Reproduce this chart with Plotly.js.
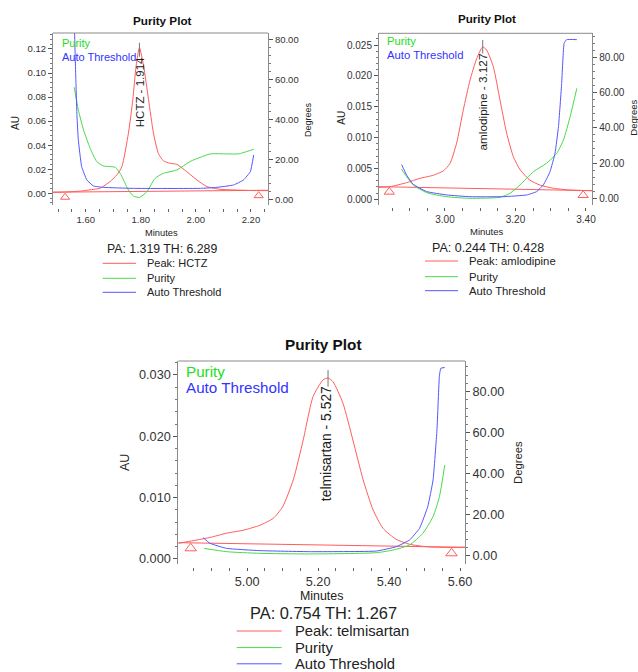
<!DOCTYPE html>
<html>
<head>
<meta charset="utf-8">
<script src="https://cdn.plot.ly/plotly-3.0.1.min.js"></script>
<style>html,body{margin:0;padding:0;background:#fff;}#chart{width:638px;height:672px;}</style>
</head>
<body>
<div id="chart"></div>
<script>
// ---------- data ----------
// Plot 1: HCTZ
const hctzTime = [1.481,1.53,1.58,1.62,1.652,1.688,1.713,1.731,1.755,1.771,1.783,1.795,1.81,1.828,1.846,1.864,1.882,1.905,1.931,1.967,2.004,2.040,2.088,2.137,2.20,2.262];
const hctzAU   = [0.0008,0.0011,0.0018,0.003,0.0042,0.0097,0.0153,0.022,0.050,0.078,0.106,0.121,0.106,0.078,0.050,0.033,0.027,0.025,0.024,0.018,0.011,0.0056,0.0033,0.0028,0.0023,0.0022];
const hctzPurTime = [1.558,1.573,1.592,1.616,1.640,1.664,1.707,1.725,1.755,1.773,1.795,1.822,1.852,1.882,1.931,1.979,2.016,2.052,2.113,2.155,2.185,2.210];
const hctzPurDeg  = [56.3,45,35,25.8,19.2,17,16.3,13.3,5,2,1.3,4.2,10.8,13.3,15,19.2,21.3,23,23,23,24.2,25.3];
const hctzThrTime = [1.556,1.560,1.564,1.568,1.573,1.585,1.604,1.628,1.664,1.773,2.016,2.076,2.137,2.173,2.198,2.210];
const hctzThrDeg  = [100,80,60,42,30,16.7,10,7,6.3,5.8,5.8,6.3,7.5,10,14.2,22.5];
const hctzBaseTime = [1.481,2.262];
const hctzBaseAU   = [0.0009,0.0025];
const hctzMarkTime = [1.525,2.228];
const hctzMarkAU   = [-0.0033,-0.0020];

// Plot 2: amlodipine
const amlTime = [2.8128,2.844,2.891,2.929,2.967,2.995,3.014,3.033,3.052,3.071,3.090,3.107,3.118,3.137,3.156,3.175,3.194,3.213,3.241,3.270,3.307,3.355,3.418];
const amlAU   = [0.00194,0.00205,0.0027,0.0034,0.0039,0.0046,0.0058,0.0091,0.0145,0.0193,0.0228,0.0247,0.0242,0.0215,0.0161,0.0107,0.0069,0.0048,0.0031,0.0023,0.0018,0.0015,0.0014];
const amlPurTime = [2.877,2.891,2.910,2.948,3.005,3.071,3.156,3.184,3.213,3.251,3.288,3.317,3.336,3.355,3.374];
const amlPurDeg  = [16.5,12.3,7.6,3.2,0.9,0,0.6,2.8,7.6,15.1,19.9,25.5,33.1,46.3,62.4];
const amlThrTime = [2.877,2.891,2.910,2.948,3.005,3.071,3.165,3.232,3.260,3.279,3.298,3.312,3.322,3.331,3.338,3.345,3.374];
const amlThrDeg  = [19.1,13.2,7.9,3.8,1.9,0.9,0.9,1.9,3.8,7.6,15.1,25.5,40.7,65.2,88,90,90];
const amlBaseTime = [2.8128,3.418];
const amlBaseAU   = [0.00205,0.0014];
const amlMarkTime = [2.842,3.392];
const amlMarkAU   = [0.0012,0.00066];

// Plot 3: telmisartan
const telTime = [4.806,4.849,4.895,4.942,4.990,5.036,5.073,5.100,5.130,5.158,5.186,5.214,5.228,5.242,5.270,5.298,5.327,5.355,5.383,5.420,5.458,5.505,5.552,5.614];
const telAU   = [0.00255,0.0030,0.0035,0.0042,0.0047,0.0055,0.0066,0.0085,0.0129,0.0194,0.0265,0.0292,0.0295,0.0289,0.0254,0.0194,0.0129,0.0080,0.0050,0.0032,0.0024,0.0020,0.0019,0.0019];
const telPurTime = [4.879,4.942,5.036,5.176,5.364,5.411,5.458,5.495,5.524,5.542,5.557];
const telPurDeg  = [3.7,2.1,1.3,1.0,1.6,2.9,5.4,11,19.2,28.9,44.3];
const telThrTime = [4.876,4.895,4.942,5.036,5.176,5.364,5.420,5.458,5.486,5.509,5.524,5.535,5.542,5.546,5.557];
const telThrDeg  = [8.9,6.2,3.7,2.6,2.1,2.4,4.5,7.8,13.5,24,37,61.4,88,91.4,91.7];
const telBaseTime = [4.806,5.614];
const telBaseAU   = [0.00266,0.0019];
const telMarkTime = [4.841,5.576];
const telMarkAU   = [0.00174,0.00093];

// text
const peakNames = ["HCTZ","amlodipine","telmisartan"];
const peakLabels = ["HCTZ - 1.914","amlodipine - 3.127","telmisartan - 5.527"];
const paText = ["PA: 1.319 TH: 6.289","PA: 0.244 TH: 0.428","PA: 0.754 TH: 1.267"];
const legendNames = ["Purity","Auto Threshold"];

// ---------- helpers ----------
const W = 638, H = 672;
const FONT = "Liberation Sans, Arial, Helvetica, sans-serif";
const RED = "#ff5c5c", GREEN = "#48da48", BLUE = "#5555ff";
const px = x => x / W;
const py = y => 1 - y / H;

// per-plot geometry (pixels) and styling
const plots = [
  {xa:"x", ya:"y", ya2:"y2", xName:"xaxis", yName:"yaxis", y2Name:"yaxis2",
   L:53, R:268, T:33, B:205, xPos:208,
   xr:[1.481,2.262], yr:[-0.00975,0.1333], y2r:[-2.5,83.35],
   ydt:0.02, yminor:0.004, yfmt:".2f", tick:9.5,
   data:[hctzTime,hctzAU,hctzPurTime,hctzPurDeg,hctzThrTime,hctzThrDeg,hctzBaseTime,hctzBaseAU,hctzMarkTime,hctzMarkAU],
   title:{x:162.7,y:20,s:11.7}, au:{x:15,y:123,s:10}, deg:{x:308,y:120,s:9},
   inleg:{x:60,y:[43,57.5],s:11}, peak:{up:5,down:9,s:11.5,xs:0},
   minutes:{x:161.7,y:233.3,s:9.3}, pa:{x:161.7,y:248.5,s:12.3},
   leg:{x0:102.7,x1:136,tx:145,y:[263.3,278.3,292.3],s:11}, mark:8},
  {xa:"x2", ya:"y3", ya2:"y4", xName:"xaxis2", yName:"yaxis3", y2Name:"yaxis4",
   L:379, R:592.3, T:33.3, B:205, xPos:207,
   xr:[2.8128,3.4179], yr:[-0.00092,0.0269], y2r:[-3.8,93.6],
   ydt:0.005, yminor:0.001, yfmt:".3f", tick:10,
   data:[amlTime,amlAU,amlPurTime,amlPurDeg,amlThrTime,amlThrDeg,amlBaseTime,amlBaseAU,amlMarkTime,amlMarkAU],
   title:{x:486.7,y:18,s:11.6}, au:{x:340.7,y:118,s:10}, deg:{x:632.7,y:118,s:9.5},
   inleg:{x:385,y:[41,55],s:11.3}, peak:{up:7,down:6.5,s:11.8,xs:0},
   minutes:{x:486.7,y:231,s:9.5}, pa:{x:488,y:247.7,s:12.5},
   leg:{x0:425,x1:458,tx:467,y:[261,276.7,290.7],s:11.3}, mark:9},
  {xa:"x3", ya:"y5", ya2:"y6", xName:"xaxis3", yName:"yaxis5", y2Name:"yaxis6",
   L:178.3, R:465, T:361, B:564, xPos:567,
   xr:[4.806,5.614], yr:[-0.00082,0.03228], y2r:[-3.9,94.9],
   ydt:0.01, yminor:0.002, yfmt:".3f", tick:12.7,
   data:[telTime,telAU,telPurTime,telPurDeg,telThrTime,telThrDeg,telBaseTime,telBaseAU,telMarkTime,telMarkAU],
   title:{x:323,y:345,s:15.3}, au:{x:125,y:463,s:12.5}, deg:{x:518,y:463,s:11.3},
   inleg:{x:184,y:[371,388],s:15.2}, peak:{up:8,down:8.6,s:13.9,xs:-2},
   minutes:{x:321.5,y:595.5,s:12.4}, pa:{x:323.3,y:613,s:16.4},
   leg:{x0:236.7,x1:281.7,tx:293,y:[631,647.6,663.8],s:14.8}, mark:10}
];

const traces = [], shapes = [], annotations = [];
const layout = {
  width: W, height: H, margin:{l:0,r:0,t:0,b:0,pad:0},
  paper_bgcolor:"#fff", plot_bgcolor:"#fff", showlegend:false,
  font:{family:FONT, color:"#333"}
};

function txt(x, y, text, size, opts) {
  return Object.assign({xref:"paper", yref:"paper", x:px(x), y:py(y), text:text,
    showarrow:false, xanchor:"center", yanchor:"middle",
    font:{family:FONT, size:size, color:"#222"}}, opts || {});
}

plots.forEach((p, i) => {
  const [t, au, pt, pd, tt, td, bt, ba, mt, ma] = p.data;
  const sp = {shape:"spline", smoothing:0.6};
  traces.push({x:t, y:au, xaxis:p.xa, yaxis:p.ya, mode:"lines", name:"Peak: " + peakNames[i],
    line:Object.assign({color:RED, width:1}, sp), hoverinfo:"skip"});
  traces.push({x:bt, y:ba, xaxis:p.xa, yaxis:p.ya, mode:"lines", name:"Baseline",
    line:{color:RED, width:1}, hoverinfo:"skip"});
  traces.push({x:mt, y:ma, xaxis:p.xa, yaxis:p.ya, mode:"markers", name:"Integration marks",
    marker:{symbol:"triangle-up-open", size:p.mark, color:RED, line:{color:RED, width:1}}, hoverinfo:"skip", cliponaxis:false});
  traces.push({x:pt, y:pd, xaxis:p.xa, yaxis:p.ya2, mode:"lines", name:"Purity",
    line:Object.assign({color:GREEN, width:1}, sp), hoverinfo:"skip"});
  traces.push({x:tt, y:td, xaxis:p.xa, yaxis:p.ya2, mode:"lines", name:"Auto Threshold",
    line:{color:BLUE, width:1, shape:"spline", smoothing:0.35}, hoverinfo:"skip"});

  layout[p.xName] = {
    domain:[px(p.L), px(p.R)], range:p.xr, anchor:"free", position:py(p.xPos),
    showline:false, zeroline:false, showgrid:false,
    ticks:"outside", ticklen:3, tickcolor:"#555", tickwidth:1,
    dtick:0.2, tick0:0, tickformat:".2f",
    tickfont:{family:FONT, size:p.tick, color:"#333"},
    minor:{dtick:0.05, ticks:"outside", ticklen:3, tickcolor:"#666", showgrid:false},
    fixedrange:true
  };
  layout[p.yName] = {
    domain:[py(p.B), py(p.T)], range:p.yr, anchor:p.xa, side:"left",
    showline:true, linecolor:"#8a8a8a", linewidth:1, zeroline:false, showgrid:false,
    ticks:"outside", ticklen:4, tickcolor:"#555", dtick:p.ydt, tick0:0, tickformat:p.yfmt,
    tickfont:{family:FONT, size:p.tick, color:"#333"},
    minor:{dtick:p.yminor, ticks:"outside", ticklen:2, tickcolor:"#777", showgrid:false},
    fixedrange:true
  };
  layout[p.y2Name] = {
    domain:[py(p.B), py(p.T)], range:p.y2r, anchor:p.xa, overlaying:p.ya, side:"right",
    showline:true, linecolor:"#8a8a8a", linewidth:1, zeroline:false, showgrid:false,
    ticks:"outside", ticklen:4, tickcolor:"#555", dtick:20, tick0:0, tickformat:".2f",
    tickfont:{family:FONT, size:p.tick, color:"#333"},
    minor:{dtick:4, ticks:"outside", ticklen:2, tickcolor:"#777", showgrid:false},
    fixedrange:true
  };
  // top frame line
  shapes.push({type:"line", xref:p.xa + " domain", yref:p.ya + " domain", x0:0, x1:1, y0:1, y1:1,
    line:{color:"#8a8a8a", width:1}});

  // peak apex from data
  let k = 0;
  au.forEach((v, j) => { if (v > au[k]) k = j; });
  const peakX = t[k], peakY = au[k];
  shapes.push({type:"line", xref:p.xa, yref:p.ya, ysizemode:"pixel", yanchor:peakY,
    x0:peakX, x1:peakX, y0:p.peak.up, y1:-p.peak.down, line:{color:"#777", width:1}});
  annotations.push({xref:p.xa, yref:p.ya, x:peakX, y:peakY, text:peakLabels[i], textangle:-90,
    showarrow:false, xanchor:"center", yanchor:"top", yshift:-p.peak.down + 1, xshift:p.peak.xs,
    borderpad:0, font:{family:FONT, size:p.peak.s, color:"#222"}});

  // titles and axis labels
  annotations.push(txt(p.title.x, p.title.y, "<b>Purity Plot</b>", p.title.s, {font:{family:FONT, size:p.title.s, color:"#111"}}));
  annotations.push(txt(p.au.x, p.au.y, "AU", p.au.s, {textangle:-90}));
  annotations.push(txt(p.deg.x, p.deg.y, "Degrees", p.deg.s, {textangle:-90}));
  annotations.push(txt(p.minutes.x, p.minutes.y, "Minutes", p.minutes.s));
  annotations.push(txt(p.pa.x, p.pa.y, paText[i], p.pa.s));

  // in-plot key
  annotations.push(txt(p.inleg.x, p.inleg.y[0], legendNames[0], p.inleg.s, {xanchor:"left", font:{family:FONT, size:p.inleg.s, color:"#22dd22"}}));
  annotations.push(txt(p.inleg.x, p.inleg.y[1], legendNames[1], p.inleg.s, {xanchor:"left", font:{family:FONT, size:p.inleg.s, color:"#3333ff"}}));

  // bottom legend
  const names = ["Peak: " + peakNames[i], legendNames[0], legendNames[1]];
  const cols = [RED, GREEN, BLUE];
  names.forEach((n, j) => {
    shapes.push({type:"line", xref:"paper", yref:"paper", x0:px(p.leg.x0), x1:px(p.leg.x1),
      y0:py(p.leg.y[j]), y1:py(p.leg.y[j]), line:{color:cols[j], width:1}});
    annotations.push(txt(p.leg.tx, p.leg.y[j], n, p.leg.s, {xanchor:"left"}));
  });
});

layout.shapes = shapes;
layout.annotations = annotations;

Plotly.newPlot("chart", traces, layout, {staticPlot:true, displayModeBar:false});
</script>
</body>
</html>
